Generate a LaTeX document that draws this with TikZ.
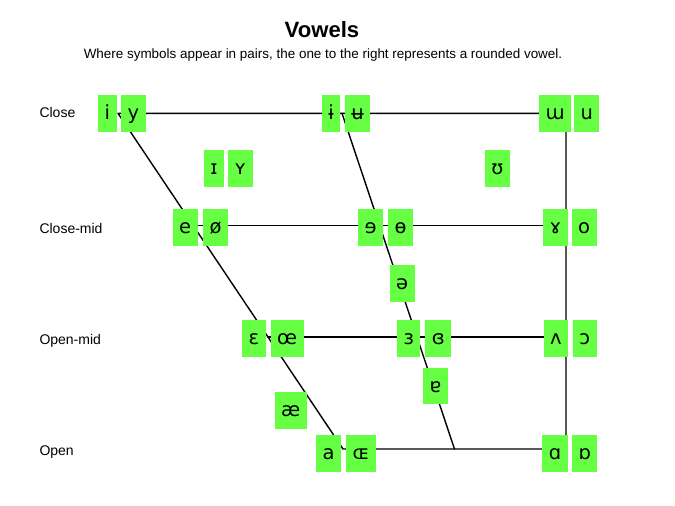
\documentclass[tikz,border=0pt]{standalone}
\usepackage{fontspec}
\setmainfont{Liberation Sans}
\newfontfamily\ipafont{DejaVu Sans}
\usetikzlibrary{calc}
\definecolor{vgreen}{RGB}{102,255,68}
\tikzset{
  vowel/.style={fill=vgreen,inner xsep=6.5pt,inner ysep=0pt,
    text height=24.5pt,text depth=12.2pt,
    font=\ipafont\fontsize{19.5}{20}\selectfont},
  height/.style={anchor=base west,inner sep=0pt,font=\fontsize{14}{16}\selectfont}
}
\begin{document}
\begin{tikzpicture}[x=1pt,y=-1pt,line cap=round,line join=round]
    \useasboundingbox (0,0) rectangle (675,506);
    \node[anchor=base,font=\bfseries\fontsize{22.1}{24}\selectfont] (title) at (322,37.7) {Vowels};
    \node[anchor=base,font=\fontsize{13.45}{15}\selectfont] (subtitle) at (323,58.3)
      {Where symbols appear in pairs, the one to the right represents a rounded vowel.};
    % chart corners
    \coordinate (cf) at (118,113.3);
    \coordinate (cb) at (566,113.3);
    \coordinate (of) at (343,449);
    \coordinate (ob) at (566,449);
    \coordinate (cmf) at ($(cf)!1/3!(of)$);
    \coordinate (cmb) at ($(cb)!1/3!(ob)$);
    \coordinate (omf) at ($(cf)!2/3!(of)$);
    \coordinate (omb) at ($(cb)!2/3!(ob)$);
    \coordinate (cc) at ($(cf)!.5!(cb)$);
    \coordinate (oc) at ($(of)!.5!(ob)$);
    \draw[line width=1.4pt] (cf) -- (cb) -- (ob) -- (of) -- cycle;
    \draw[line width=1.4pt] (cmf) -- (cmb);
    \draw[line width=1.4pt] (omf) -- (omb);
    \draw[line width=1.4pt] (cc) -- (oc);
    % heights
    \node[height] (lclose) at (39.3,117.7) {Close};
    \node[height] (lclosemid) at (39.3,233.3) {Close-mid};
    \node[height] (lopenmid) at (39.3,344.3) {Open-mid};
    \node[height] (lopen) at (39.3,455) {Open};
    % close
    \node[vowel] (i) at (107.3,113.3) {i};
    \node[vowel] (y) at (133.3,113.3) {y};
    \node[vowel] (ibar) at (331.2,113.3) {ɨ};
    \node[vowel] (ubar) at (357.5,113.3) {ʉ};
    \node[vowel] (turnm) at (555.2,113.3) {ɯ};
    \node[vowel] (u) at (586.8,113.3) {u};
    % near-close
    \node[vowel] (smalli) at (214,168.3) {ɪ};
    \node[vowel] (smally) at (240.3,168.3) {ʏ};
    \node[vowel] (upsilon) at (497.5,168.3) {ʊ};
    % close-mid
    \node[vowel] (e) at (185.2,227.8) {e};
    \node[vowel] (oslash) at (215.5,227.8) {ø};
    \node[vowel] (reve) at (370.5,227.8) {ɘ};
    \node[vowel] (obar) at (400.5,227.8) {ɵ};
    \node[vowel] (ramshorn) at (555.5,227.8) {ɤ};
    \node[vowel] (o) at (584.2,227.8) {o};
    % mid
    \node[vowel] (schwa) at (402,283.3) {ə};
    % open-mid
    \node[vowel] (epsilon) at (254,338.8) {ɛ};
    \node[vowel] (oe) at (287.2,338.8) {œ};
    \node[vowel] (revepsilon) at (408.7,338.8) {ɜ};
    \node[vowel] (closedrev) at (438.3,338.8) {ɞ};
    \node[vowel] (turnv) at (555.8,338.8) {ʌ};
    \node[vowel] (openo) at (584.7,338.8) {ɔ};
    % near-open
    \node[vowel] (ash) at (290.7,410.3) {æ};
    \node[vowel] (turna) at (435.5,386) {ɐ};
    % open
    \node[vowel] (a) at (328.5,453.8) {a};
    \node[vowel] (smalloe) at (361,453.8) {ɶ};
    \node[vowel] (alpha) at (555,453.8) {ɑ};
    \node[vowel] (turnalpha) at (584.8,453.8) {ɒ};
\end{tikzpicture}
\end{document}
